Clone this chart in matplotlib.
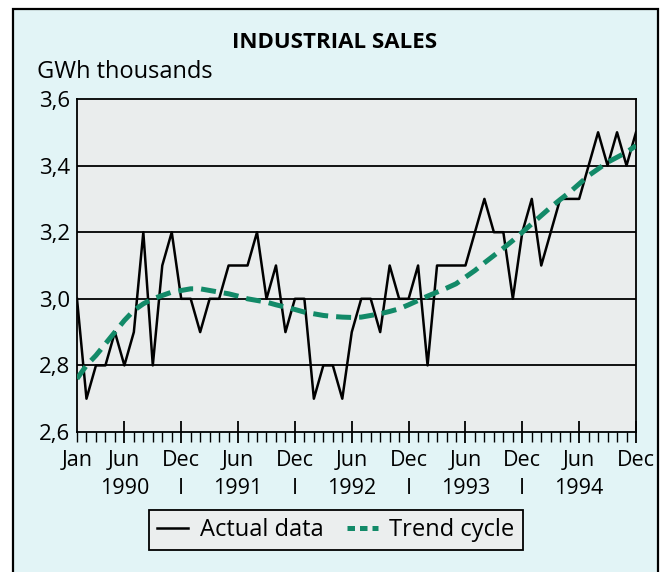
import matplotlib
matplotlib.use("Agg")
import matplotlib.pyplot as plt
import matplotlib.transforms as mtransforms
from matplotlib.lines import Line2D
from matplotlib.patches import Rectangle

# monthly data, Jan 1990 .. Dec 1994
actual = [3.0, 2.7, 2.8, 2.8, 2.9, 2.8, 2.9, 3.2, 2.8, 3.1, 3.2, 3.0,
          3.0, 2.9, 3.0, 3.0, 3.1, 3.1, 3.1, 3.2, 3.0, 3.1, 2.9, 3.0,
          3.0, 2.7, 2.8, 2.8, 2.7, 2.9, 3.0, 3.0, 2.9, 3.1, 3.0, 3.0,
          3.1, 2.8, 3.1, 3.1, 3.1, 3.1, 3.2, 3.3, 3.2, 3.2, 3.0, 3.2,
          3.3, 3.1, 3.2, 3.3, 3.3, 3.3, 3.4, 3.5, 3.4, 3.5, 3.4, 3.5]
trend = [2.76, 2.80, 2.83, 2.865, 2.90, 2.935, 2.965, 2.985, 3.0, 3.01,
         3.02, 3.025, 3.03, 3.03, 3.025, 3.02, 3.015, 3.008, 3.0, 2.995,
         2.99, 2.982, 2.975, 2.968, 2.96, 2.955, 2.95, 2.947, 2.945, 2.944,
         2.945, 2.95, 2.955, 2.962, 2.97, 2.982, 2.995, 3.008, 3.02, 3.032,
         3.045, 3.065, 3.085, 3.108, 3.13, 3.152, 3.175, 3.2, 3.225, 3.25,
         3.275, 3.298, 3.32, 3.345, 3.37, 3.39, 3.41, 3.425, 3.44, 3.46]
months = list(range(len(actual)))

month_pos = [0, 5, 11, 17, 23, 29, 35, 41, 47, 53, 59]
month_labels = ["Jan", "Jun", "Dec", "Jun", "Dec", "Jun", "Dec", "Jun", "Dec", "Jun", "Dec"]
year_pos = [5, 17, 29, 41, 53]
year_labels = ["1990", "1991", "1992", "1993", "1994"]
sep_pos = [11, 23, 35, 47]
y_ticks = [2.6, 2.8, 3.0, 3.2, 3.4, 3.6]
y_labels = ["2,6", "2,8", "3,0", "3,2", "3,4", "3,6"]

plt.rcParams["font.family"] = ["Open Sans", "DejaVu Sans"]
GREEN = "#128a68"
BG = "#e2f4f6"

fig = plt.figure(figsize=(6.64, 5.72), dpi=100)
fig.patch.set_facecolor("white")
# outer frame
fig.patches.append(Rectangle((13 / 664, -0.01), (658 - 13) / 664, 1 - 9 / 572 + 0.01,
                             transform=fig.transFigure, facecolor=BG,
                             edgecolor="black", linewidth=1.6, zorder=-5))

ax = fig.add_axes([77 / 664, 1 - 432 / 572, (636 - 77) / 664, (432 - 99) / 572])
ax.set_facecolor("#eaeded")

ax.plot(months, actual, color="black", linewidth=1.8, zorder=3)
ax.plot(months, trend, color=GREEN, linewidth=3.6, dashes=(3, 1.6), zorder=4)

ax.set_xlim(0, 59)
ax.set_ylim(2.6, 3.6)
ax.set_yticks(y_ticks)
ax.set_yticklabels(y_labels, fontsize=16)
ax.tick_params(axis="y", length=0, pad=5)
for y in y_ticks[1:-1]:
    ax.axhline(y, color="black", linewidth=1.3, zorder=2)

ax.set_xticks(month_pos[1:])
ax.set_xticklabels([])
ax.set_xticks(months, minor=True)
ax.tick_params(axis="x", which="major", direction="inout", length=16, width=1.3)
ax.tick_params(axis="x", which="minor", direction="out", length=7, width=1.0)
for s in ax.spines.values():
    s.set_linewidth(1.3)

tr = mtransforms.blended_transform_factory(ax.transData, fig.transFigure)
for p, lab in zip(month_pos, month_labels):
    ax.text(p, 1 - 461 / 572, lab, transform=tr, ha="center", va="center", fontsize=15.5)
for p, lab in zip(year_pos, year_labels):
    ax.text(p, 1 - 489 / 572, lab, transform=tr, ha="center", va="center", fontsize=15.5)
for p in sep_pos:
    ax.text(p, 1 - 489 / 572, "I", transform=tr, ha="center", va="center", fontsize=15.5)

fig.text(335 / 664, 1 - 42 / 572, "INDUSTRIAL SALES", ha="center", va="center",
         fontsize=16, fontweight="bold")
fig.text(37 / 664, 1 - 72 / 572, "GWh thousands", ha="left", va="center", fontsize=17)

handles = [Line2D([], [], color="black", linewidth=1.8),
           Line2D([], [], color=GREEN, linewidth=3.6, dashes=(1.5, 1))]
leg = fig.legend(handles, ["Actual data", "Trend cycle"], loc="center",
                 bbox_to_anchor=(336 / 664, 1 - 530 / 572), ncol=2, fontsize=17,
                 frameon=True, fancybox=False, edgecolor="black", facecolor="#ebeeee",
                 framealpha=1, handlelength=1.3, handletextpad=0.5, columnspacing=1.0,
                 borderpad=0.35, borderaxespad=0)
leg.get_frame().set_linewidth(1.3)

fig.savefig("out.png", dpi=100, facecolor=fig.get_facecolor())
